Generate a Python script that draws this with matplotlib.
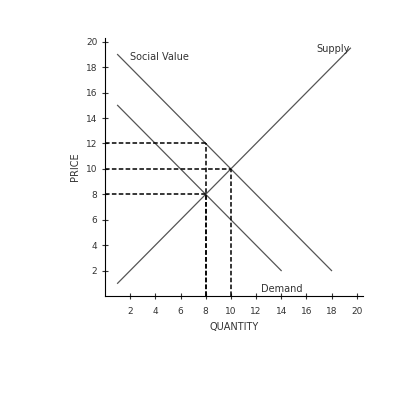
import matplotlib
matplotlib.use("Agg")
import matplotlib.pyplot as plt

supply_q = [1, 19.5]
supply_p = [1, 19.5]
social_q = [1, 18]
social_p = [19, 2]
demand_q = [1, 14]
demand_p = [15, 2]
xticks = [2, 4, 6, 8, 10, 12, 14, 16, 18, 20]
yticks = [2, 4, 6, 8, 10, 12, 14, 16, 18, 20]
# dashed guides: (price, quantity)
guides = [(12, 8), (10, 10), (8, 8)]

fig = plt.figure(figsize=(4, 4), dpi=100)
ax = fig.add_axes([0.2625, 0.26, 0.645, 0.645])
ax.plot(supply_q, supply_p, color="#555555", lw=0.9)
ax.plot(social_q, social_p, color="#555555", lw=0.9)
ax.plot(demand_q, demand_p, color="#555555", lw=0.9)
for p, q in guides:
    ax.plot([0, q], [p, p], color="black", ls="--", lw=1.1, dashes=(3, 1.5))
    ax.plot([q, q], [0, p], color="black", ls="--", lw=1.1, dashes=(3, 1.5))
ax.text(2, 18.6, "Social Value", fontsize=7, color="#333333")
ax.text(16.8, 19.2, "Supply", fontsize=7, color="#333333")
ax.text(12.4, 0.3, "Demand", fontsize=7, color="#333333")
ax.set_xlim(0, 20.5)
ax.set_ylim(0, 20.3)
ax.set_xticks(xticks)
ax.set_yticks(yticks)
ax.tick_params(labelsize=6.5, length=4, direction="inout", colors="#333333")
ax.tick_params(axis="x", pad=6)
ax.spines["top"].set_visible(False)
ax.spines["right"].set_visible(False)
ax.set_xlabel("QUANTITY", fontsize=7, color="#333333")
ax.set_ylabel("PRICE", fontsize=7, color="#333333")
fig.savefig("out.png", dpi=100)
